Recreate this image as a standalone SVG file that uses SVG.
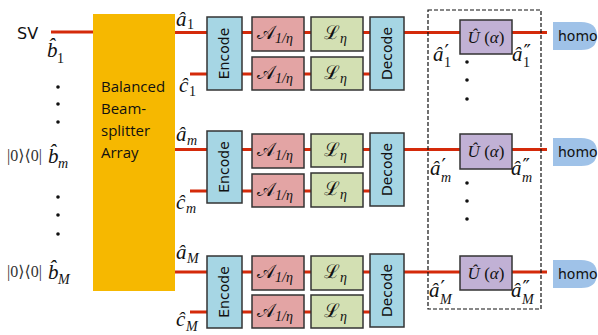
<svg xmlns="http://www.w3.org/2000/svg" width="598" height="335" viewBox="0 0 598 335">
<style>
.wire{stroke:#d42a0a;stroke-width:3;fill:none}
.bs{fill:#f6b800}
.enc{fill:#a6d6e4;stroke:#333;stroke-width:1.5}
.amp{fill:#e3a4a4;stroke:#333;stroke-width:1.5}
.loss{fill:#d3e0b3;stroke:#333;stroke-width:1.5}
.uni{fill:#c1b1d5;stroke:#333;stroke-width:1.5}
.homo{fill:#9fc2e8}
.sans{font-family:"DejaVu Sans","Liberation Sans",sans-serif;font-size:14px;fill:#111}
.cal{font-family:"DejaVu Serif","Liberation Serif",serif;font-size:19px;fill:#111}
.bsl{font-family:"Open Sans","Liberation Sans",sans-serif;font-size:15px;fill:#111}
.m{font-family:"Liberation Serif","DejaVu Serif",serif;font-style:italic;font-size:21px;fill:#111}
.sub{font-family:"Liberation Serif","DejaVu Serif",serif;font-style:italic;font-size:14px;fill:#111}
.up{font-style:normal}
.pr{font-family:"DejaVu Sans",sans-serif;font-size:20px;font-style:normal;fill:#111}
.n{font-family:"Liberation Serif","DejaVu Serif",serif;font-size:16px;fill:#333}
.dot{fill:#111}
</style>
<g id="connectors">
<line class="wire" x1="51" y1="32" x2="93" y2="32"/>
<line class="wire" x1="175" y1="32.5" x2="547" y2="32.5"/>
<line class="wire" x1="190" y1="74" x2="370" y2="74"/>
<line class="wire" x1="175" y1="149.5" x2="547" y2="149.5"/>
<line class="wire" x1="190" y1="191" x2="370" y2="191"/>
<line class="wire" x1="175" y1="272" x2="547" y2="272"/>
<line class="wire" x1="190" y1="312" x2="370" y2="312"/>
</g>
<g id="bs">
<rect class="bs" x="93" y="14" width="82" height="277"/>
<text class="bsl" x="101" y="92">Balanced</text>
<text class="bsl" x="101" y="114">Beam-</text>
<text class="bsl" x="101" y="136">splitter</text>
<text class="bsl" x="101" y="158">Array</text>
</g>
<g id="sv"><text class="sans" x="17" y="39" style="font-size:16px">SV</text></g>
<g id="inputs">
<text class="m" x="47" y="57">b̂</text><text class="sub up" x="57" y="63">1</text>
<circle class="dot" cx="58" cy="87" r="1.8"/><circle class="dot" cx="58" cy="104" r="1.8"/><circle class="dot" cx="58" cy="122" r="1.8"/>
<text class="n" x="7" y="161">|0⟩⟨0|</text><text class="m" x="48" y="163">b̂</text><text class="sub" x="58" y="168">m</text>
<circle class="dot" cx="58" cy="197" r="1.8"/><circle class="dot" cx="58" cy="215" r="1.8"/><circle class="dot" cx="58" cy="234" r="1.8"/>
<text class="n" x="7" y="277">|0⟩⟨0|</text><text class="m" x="48" y="279">b̂</text><text class="sub" x="58" y="284">M</text>
</g>
<g id="row1">
<text class="m" x="176" y="26">â</text><text class="sub up" x="187" y="29">1</text>
<text class="m" x="179" y="92">ĉ</text><text class="sub up" x="189" y="96">1</text>
<rect class="enc" x="207" y="17" width="35" height="73"/>
<text class="sans" transform="translate(229,53.5) rotate(-90)" text-anchor="middle">Encode</text>
<rect class="amp" x="252" y="17" width="52" height="34"/>
<text class="cal" x="257" y="39">𝒜<tspan class="sub" dy="4">1/η</tspan></text>
<rect class="amp" x="252" y="57" width="52" height="33"/>
<text class="cal" x="257" y="79">𝒜<tspan class="sub" dy="4">1/η</tspan></text>
<rect class="loss" x="311" y="17" width="52" height="34"/>
<text class="cal" x="324" y="39">ℒ<tspan class="sub" dy="4">η</tspan></text>
<rect class="loss" x="311" y="57" width="52" height="33"/>
<text class="cal" x="324" y="79">ℒ<tspan class="sub" dy="4">η</tspan></text>
<rect class="enc" x="370" y="17" width="34" height="73"/>
<text class="sans" transform="translate(392,53.5) rotate(-90)" text-anchor="middle">Decode</text>
</g>
<g id="row2">
<text class="m" x="176" y="141">â</text><text class="sub" x="187" y="145">m</text>
<text class="m" x="176" y="209">ĉ</text><text class="sub" x="186" y="213">m</text>
<rect class="enc" x="207" y="131" width="35" height="72"/>
<text class="sans" transform="translate(229,167) rotate(-90)" text-anchor="middle">Encode</text>
<rect class="amp" x="252" y="134" width="52" height="34"/>
<text class="cal" x="257" y="156">𝒜<tspan class="sub" dy="4">1/η</tspan></text>
<rect class="amp" x="252" y="174" width="52" height="33"/>
<text class="cal" x="257" y="196">𝒜<tspan class="sub" dy="4">1/η</tspan></text>
<rect class="loss" x="311" y="134" width="52" height="33"/>
<text class="cal" x="324" y="156">ℒ<tspan class="sub" dy="4">η</tspan></text>
<rect class="loss" x="311" y="173" width="52" height="34"/>
<text class="cal" x="324" y="195">ℒ<tspan class="sub" dy="4">η</tspan></text>
<rect class="enc" x="370" y="133" width="34" height="73"/>
<text class="sans" transform="translate(392,169.5) rotate(-90)" text-anchor="middle">Decode</text>
</g>
<g id="row3">
<text class="m" x="176" y="259">â</text><text class="sub" x="187" y="263">M</text>
<text class="m" x="176" y="326">ĉ</text><text class="sub" x="186" y="331">M</text>
<rect class="enc" x="207" y="256" width="35" height="72"/>
<text class="sans" transform="translate(229,292) rotate(-90)" text-anchor="middle">Encode</text>
<rect class="amp" x="252" y="256" width="52" height="34"/>
<text class="cal" x="257" y="278">𝒜<tspan class="sub" dy="4">1/η</tspan></text>
<rect class="amp" x="252" y="295" width="52" height="33"/>
<text class="cal" x="257" y="317">𝒜<tspan class="sub" dy="4">1/η</tspan></text>
<rect class="loss" x="311" y="256" width="52" height="34"/>
<text class="cal" x="324" y="278">ℒ<tspan class="sub" dy="4">η</tspan></text>
<rect class="loss" x="311" y="295" width="52" height="33"/>
<text class="cal" x="324" y="317">ℒ<tspan class="sub" dy="4">η</tspan></text>
<rect class="enc" x="370" y="254" width="34" height="73"/>
<text class="sans" transform="translate(392,290.5) rotate(-90)" text-anchor="middle">Decode</text>
</g>
<g id="measurement">
<rect x="428" y="10" width="113" height="299" fill="none" stroke="#111" stroke-width="1.2" stroke-dasharray="4,2"/>
</g>
<g id="u1">
<rect class="uni" x="460" y="20" width="52" height="34"/>
<text class="m" x="486" y="43" text-anchor="middle" style="font-size:17px">Û <tspan class="up">(</tspan>α<tspan class="up">)</tspan></text>
<text class="m" x="433" y="61">â<tspan class="pr" dx="1" dy="-3">′</tspan><tspan class="sub up" x="444" dy="9">1</tspan></text>
<text class="m" x="512" y="61">â<tspan class="pr" dx="1" dy="-3">″</tspan><tspan class="sub up" x="523" dy="9">1</tspan></text>
<circle class="dot" cx="467" cy="62" r="1.8"/><circle class="dot" cx="467" cy="80" r="1.8"/><circle class="dot" cx="467" cy="99" r="1.8"/>
</g>
<g id="u2">
<rect class="uni" x="460" y="134" width="52" height="35"/>
<text class="m" x="486" y="157" text-anchor="middle" style="font-size:17px">Û <tspan class="up">(</tspan>α<tspan class="up">)</tspan></text>
<text class="m" x="430" y="175">â<tspan class="pr" dx="1" dy="-3">′</tspan><tspan class="sub" x="441" dy="10">m</tspan></text>
<text class="m" x="511" y="175">â<tspan class="pr" dx="1" dy="-3">″</tspan><tspan class="sub" x="522" dy="10">m</tspan></text>
<circle class="dot" cx="467" cy="183" r="1.8"/><circle class="dot" cx="467" cy="201" r="1.8"/><circle class="dot" cx="467" cy="219" r="1.8"/>
</g>
<g id="u3">
<rect class="uni" x="460" y="256" width="52" height="34"/>
<text class="m" x="486" y="279" text-anchor="middle" style="font-size:17px">Û <tspan class="up">(</tspan>α<tspan class="up">)</tspan></text>
<text class="m" x="429" y="297">â<tspan class="pr" dx="1" dy="-3">′</tspan><tspan class="sub" x="440" dy="10">M</tspan></text>
<text class="m" x="511" y="297">â<tspan class="pr" dx="1" dy="-3">″</tspan><tspan class="sub" x="522" dy="10">M</tspan></text>
</g>
<g id="homo1">
<path class="homo" d="M553,22 H581 Q597,22 597,36 Q597,50 581,50 H553 Z"/>
<text class="sans" x="558" y="41">homo</text>
</g>
<g id="homo2">
<path class="homo" d="M553,138 H581 Q597,138 597,152 Q597,166 581,166 H553 Z"/>
<text class="sans" x="558" y="157">homo</text>
</g>
<g id="homo3">
<path class="homo" d="M553,260 H581 Q597,260 597,274 Q597,288 581,288 H553 Z"/>
<text class="sans" x="558" y="279">homo</text>
</g>
</svg>
